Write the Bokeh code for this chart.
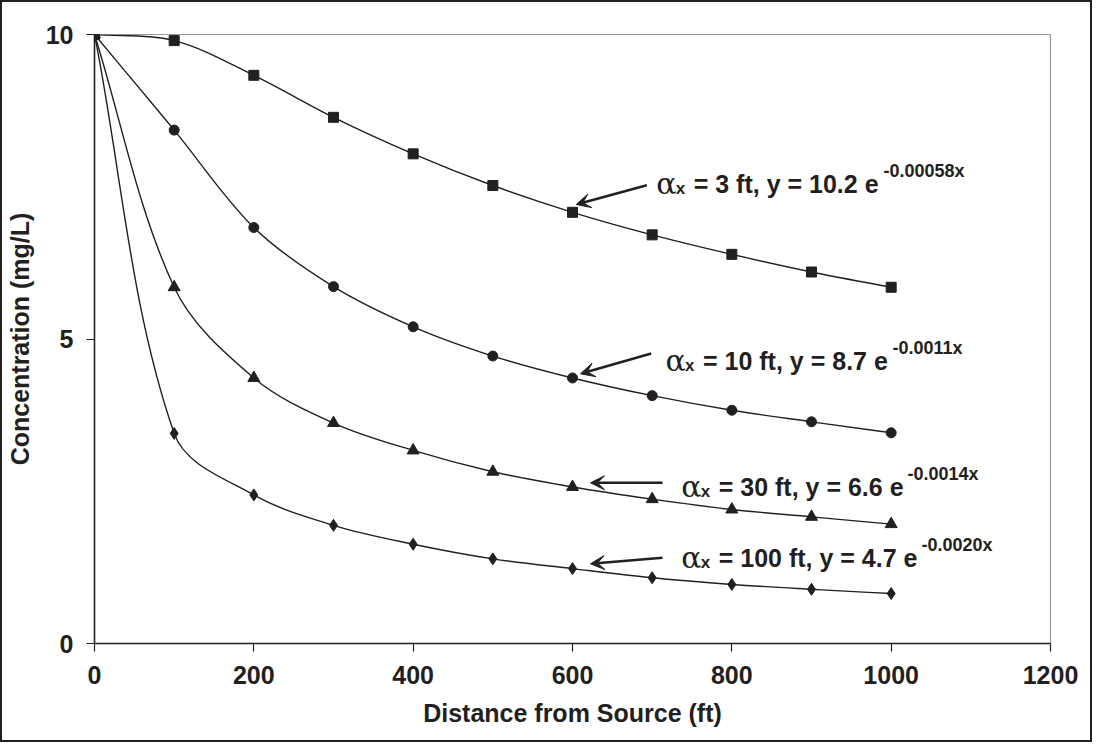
import math
from bokeh.plotting import figure
from bokeh.models import Range1d, FixedTicker, Label, Arrow, VeeHead
from bokeh.embed import file_html
from bokeh.resources import INLINE

# ---------------- data ----------------
distance = [0, 100, 200, 300, 400, 500, 600, 700, 800, 900, 1000]
conc_3ft = [10, 9.90, 9.33, 8.64, 8.04, 7.52, 7.08, 6.71, 6.39, 6.10, 5.85]
conc_10ft = [10, 8.43, 6.83, 5.86, 5.20, 4.72, 4.36, 4.07, 3.83, 3.64, 3.46]
conc_30ft = [10, 5.85, 4.36, 3.62, 3.17, 2.82, 2.57, 2.37, 2.20, 2.08, 1.96]
conc_100ft = [10, 3.45, 2.44, 1.94, 1.63, 1.39, 1.23, 1.08, 0.97, 0.89, 0.82]

x_ticks = [0, 200, 400, 600, 800, 1000, 1200]
y_ticks = [0, 5, 10]

label_main = ["= 3 ft, y = 10.2 e", "= 10 ft, y = 8.7 e",
              "= 30 ft, y = 6.6 e", "= 100 ft, y = 4.7 e"]
label_exp = ["-0.00058x", "-0.0011x", "-0.0014x", "-0.0020x"]

# ---------------- layout constants ----------------
INK = "#231f20"
FONT = "Liberation Sans"
FL, FR, FT, FB = 100, 1056, 40, 649   # frame edges in page pixels
X0, X1, Y0, Y1 = 0, 1200, 0, 10
SX = (FR - FL) / (X1 - X0)
SY = (FB - FT) / (Y1 - Y0)


def dx(px):
    return X0 + (px - FL) / SX


def dy(py):
    return Y0 + (FB - py) / SY


p = figure(width=1092, height=742, output_backend="svg", toolbar_location=None,
           x_range=Range1d(X0, X1), y_range=Range1d(Y0, Y1),
           min_border_left=FL - 8, min_border_right=1100 - FR,
           min_border_top=FT - 8, min_border_bottom=750 - FB)
p.styles = {"border": "2px solid " + INK}
p.background_fill_color = "white"
p.border_fill_color = "white"
p.outline_line_color = "#9a9a9a"
p.outline_line_width = 1.2
p.xgrid.visible = False
p.ygrid.visible = False

for ax in (p.xaxis[0], p.yaxis[0]):
    ax.axis_line_color = INK
    ax.axis_line_width = 1.5
    ax.major_tick_line_color = INK
    ax.major_tick_line_width = 1.2
    ax.major_tick_in = 0
    ax.major_tick_out = 8
    ax.minor_tick_line_color = None
    ax.major_label_text_font = FONT
    ax.major_label_text_font_style = "bold"
    ax.major_label_text_font_size = "25px"
    ax.major_label_text_color = INK
    ax.axis_label_text_font = FONT
    ax.axis_label_text_font_style = "bold"
    ax.axis_label_text_font_size = "25px"
    ax.axis_label_text_color = INK

p.xaxis.ticker = FixedTicker(ticks=x_ticks)
p.yaxis.ticker = FixedTicker(ticks=y_ticks)
p.xaxis.axis_label = "Distance from Source (ft)"
p.yaxis.axis_label = "Concentration (mg/L)"
p.xaxis.major_label_standoff = 14
p.yaxis.major_label_standoff = 13
p.xaxis.axis_label_standoff = 12
p.yaxis.axis_label_standoff = 9


def smooth(xs, ys):
    # Bezier segments with chord-length scaled tangents (screen space)
    n = len(xs)
    pts = [(x * SX, y * SY) for x, y in zip(xs, ys)]
    tang = []
    for i in range(n):
        a, b = pts[max(i - 1, 0)], pts[min(i + 1, n - 1)]
        tx, ty = b[0] - a[0], b[1] - a[1]
        m = math.hypot(tx, ty) or 1.0
        tang.append((tx / m, ty / m))
    out = {k: [] for k in ("x0", "y0", "x1", "y1", "cx0", "cy0", "cx1", "cy1")}
    for i in range(n - 1):
        (ax_, ay_), (bx_, by_) = pts[i], pts[i + 1]
        L = math.hypot(bx_ - ax_, by_ - ay_) / 3
        out["x0"].append(xs[i]); out["y0"].append(ys[i])
        out["x1"].append(xs[i + 1]); out["y1"].append(ys[i + 1])
        out["cx0"].append((ax_ + tang[i][0] * L) / SX)
        out["cy0"].append((ay_ + tang[i][1] * L) / SY)
        out["cx1"].append((bx_ - tang[i + 1][0] * L) / SX)
        out["cy1"].append((by_ - tang[i + 1][1] * L) / SY)
    return out


series = [(conc_3ft, "square", 10), (conc_10ft, "circle", 10),
          (conc_30ft, "triangle", 12), (conc_100ft, "diamond", 12)]
for ys, mk, sz in series:
    p.bezier(**smooth(distance, ys), line_color=INK, line_width=1.4)
    p.scatter(distance, ys, marker=mk, size=sz, fill_color=INK, line_color=INK)

# annotations (page-pixel positions)
alpha_x = [661.7, 671.0, 686.7, 686.7]
base_y = [189, 366, 492, 563]
exp_x = [889, 898, 913, 927]
arrows = [((652.3, 190.7), (581.7, 210.0)),
          ((656.7, 359.0), (586.0, 379.3)),
          ((668.0, 488.3), (596.0, 488.3)),
          ((668.0, 563.3), (596.0, 569.3))]

for i in range(4):
    ax_, by = alpha_x[i], base_y[i]
    p.add_layout(Label(x=dx(ax_), y=dy(by), text="\u03b1", text_font="DejaVu Serif",
                       text_font_size="30px", text_color=INK, text_baseline="alphabetic"))
    p.add_layout(Label(x=dx(ax_ + 19.5), y=dy(by + 5), text="x", text_font=FONT,
                       text_font_style="bold", text_font_size="17px", text_color=INK,
                       text_baseline="alphabetic"))
    p.add_layout(Label(x=dx(ax_ + 37.5), y=dy(by), text=label_main[i], text_font=FONT,
                       text_font_style="bold", text_font_size="25px", text_color=INK,
                       text_baseline="alphabetic"))
    p.add_layout(Label(x=dx(exp_x[i]), y=dy(by - 13), text=label_exp[i], text_font=FONT,
                       text_font_style="bold", text_font_size="18px", text_color=INK,
                       text_baseline="alphabetic"))
    (tx, ty), (hx, hy) = arrows[i]
    p.add_layout(Arrow(x_start=dx(tx), y_start=dy(ty), x_end=dx(hx), y_end=dy(hy),
                       line_color=INK, line_width=2.5,
                       end=VeeHead(size=14, fill_color=INK, line_color=INK, line_width=1)))

open("out.html", "w").write(file_html(p, INLINE))
